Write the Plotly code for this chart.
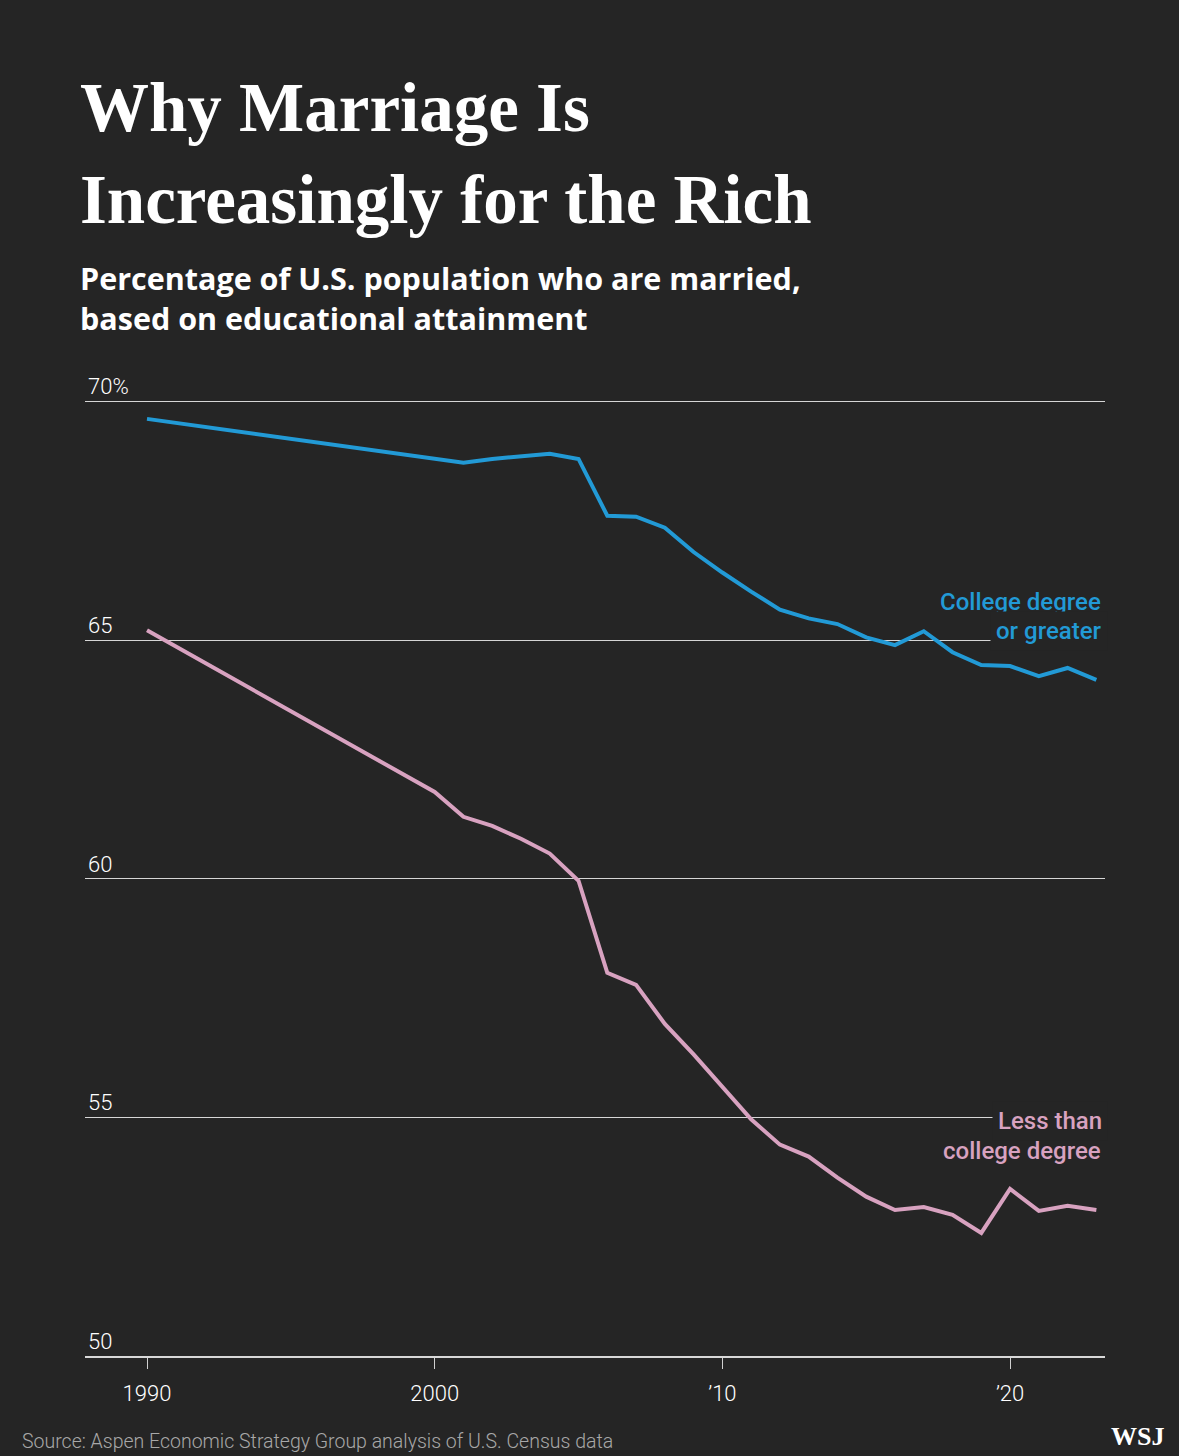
import plotly.graph_objects as go

years = [1990, 2000, 2001, 2002, 2003, 2004, 2005, 2006, 2007, 2008, 2009, 2010,
         2011, 2012, 2013, 2014, 2015, 2016, 2017, 2018, 2019, 2020, 2021, 2022, 2023]
college_or_greater = [69.64, 68.82, 68.72, 68.80, 68.86, 68.91, 68.80, 67.61, 67.59, 67.36,
                      66.85, 66.42, 66.02, 65.64, 65.46, 65.34, 65.06, 64.90, 65.19, 64.75,
                      64.48, 64.46, 64.25, 64.42, 64.17]
less_than_college = [65.21, 61.82, 61.30, 61.11, 60.84, 60.53, 59.96, 58.03, 57.78, 56.96,
                     56.32, 55.64, 54.96, 54.43, 54.18, 53.74, 53.34, 53.06, 53.12, 52.96,
                     52.58, 53.50, 53.04, 53.15, 53.06]

y_tick_vals = [50, 55, 60, 65, 70]
y_tick_text = ["50", "55", "60", "65", "70%"]
x_tick_vals = [1990, 2000, 2010, 2020]
x_tick_text = ["1990", "2000", "\u201910", "\u201920"]

BG = "#252525"
BLUE = "#229ad6"
PINK = "#d8a2c0"
GRID = "#d6d6d6"

W, H = 1179, 1456
L, R, T, B = 85, 74, 354, 100
plot_h = H - T - B


def py(ypx):
    return (H - B - ypx) / plot_h


def px(xpx):
    return (xpx - L) / (W - L - R)


fig = go.Figure()
fig.add_trace(go.Scatter(x=years, y=college_or_greater, mode="lines",
                         line=dict(color=BLUE, width=4), hoverinfo="skip"))
fig.add_trace(go.Scatter(x=years, y=less_than_college, mode="lines",
                         line=dict(color=PINK, width=4), hoverinfo="skip"))

ann = []
# Title
ann.append(dict(text="Why Marriage Is", x=px(78), y=py(108), xanchor="left", yanchor="middle",
                font=dict(family="Liberation Serif", size=69, color="white", weight="bold")))
ann.append(dict(text="Increasingly for the Rich", x=px(78), y=py(200), xanchor="left", yanchor="middle",
                font=dict(family="Liberation Serif", size=69, color="white", weight="bold")))
# Subtitle
ann.append(dict(text="Percentage of U.S. population who are married,", x=px(78), y=py(278),
                xanchor="left", yanchor="middle",
                font=dict(family="Open Sans", size=30.5, color="white", weight=700)))
ann.append(dict(text="based on educational attainment", x=px(78), y=py(318),
                xanchor="left", yanchor="middle",
                font=dict(family="Open Sans", size=30.5, color="white", weight=700)))
# Series labels
ann.append(dict(text="College degree", x=px(1103), y=py(602), xanchor="right", yanchor="middle",
                font=dict(family="Roboto", size=24, color=BLUE, weight=500)))
ann.append(dict(text="or greater", x=px(1108), y=py(631), xanchor="right", yanchor="middle",
                bgcolor=BG, borderpad=5,
                font=dict(family="Roboto", size=24, color=BLUE, weight=500)))
ann.append(dict(text="Less than", x=px(1108), y=py(1121), xanchor="right", yanchor="middle",
                bgcolor=BG, borderpad=5,
                font=dict(family="Roboto", size=24, color=PINK, weight=500)))
ann.append(dict(text="college degree", x=px(1103), y=py(1151), xanchor="right", yanchor="middle",
                font=dict(family="Roboto", size=24, color=PINK, weight=500)))
# Source and logo
ann.append(dict(text="Source: Aspen Economic Strategy Group analysis of U.S. Census data",
                x=px(20), y=py(1441), xanchor="left", yanchor="middle",
                font=dict(family="Roboto", size=19.5, color="#a8a8a8", weight=300)))
ann.append(dict(text="WSJ", x=px(1166), y=py(1436), xanchor="right", yanchor="middle",
                font=dict(family="Liberation Serif", size=26, color="white", weight="bold")))

for a in ann:
    a.update(xref="paper", yref="paper", showarrow=False)

fig.update_layout(
    width=W, height=H,
    paper_bgcolor=BG, plot_bgcolor=BG,
    margin=dict(l=L, r=R, t=T, b=B),
    showlegend=False,
    annotations=ann,
    xaxis=dict(range=[1987.845, 2023.30], tickvals=x_tick_vals, ticktext=x_tick_text,
               showgrid=False, zeroline=False, showline=True, linecolor="#d8d8d8", linewidth=2,
               ticks="outside", ticklen=11, tickwidth=1, tickcolor="#d0d0d0",
               tickfont=dict(family="Roboto", size=22, color="white", weight=300),
               ticklabelstandoff=6, fixedrange=True),
    yaxis=dict(range=[50, 71], tickvals=y_tick_vals, ticktext=y_tick_text,
               showgrid=True, gridcolor=GRID, gridwidth=1, zeroline=False, showline=False,
               ticks="", ticklabelposition="inside", ticklabelshift=-15,
               tickfont=dict(family="Roboto", size=22, color="white", weight=300),
               fixedrange=True),
)

fig.write_html("out.html", config={"displayModeBar": False},
               post_script="document.body.style.margin='0';document.body.style.overflow='hidden';"
                           "document.body.style.background='" + BG + "';")
